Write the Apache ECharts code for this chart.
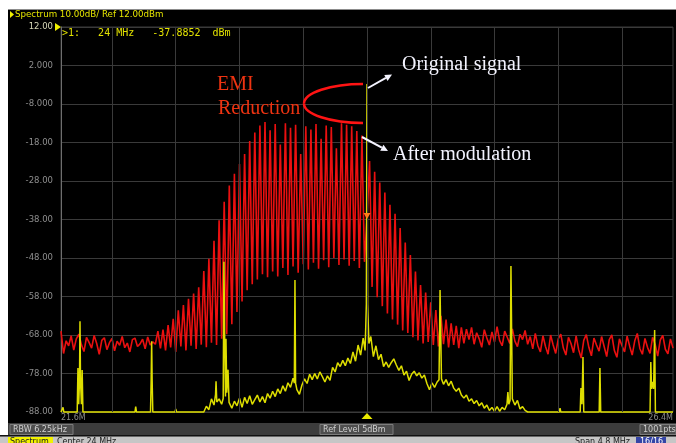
<!DOCTYPE html>
<html>
<head>
<meta charset="utf-8">
<script src="https://cdn.jsdelivr.net/npm/echarts@6/dist/echarts.min.js"></script>
<style>
html,body{margin:0;padding:0;background:#fff;}
#chart{width:676px;height:443px;}
</style>
</head>
<body>
<div id="chart"></div>
<script>
// Sweep settings (MHz)
const startMHz = 21.6;
const stopMHz = 26.4;
const centerMHz = 24.0;
const redStepMHz = 0.02;
const gridFreqs = [22.0, 22.5, 23.0, 23.5, 24.0, 24.5, 25.0, 25.5, 26.0];

// Level axis (dBm) and its printed labels
const levelMin = -88;
const levelMax = 12;
const levelStep = 10;
const levelLabels = ['-88.00','-78.00','-68.00','-58.00','-48.00','-38.00','-28.00','-18.00','-8.000','2.000','12.00'];

// Spread-spectrum clock (red): one reading every redStepMHz from startMHz
const modulatedLevel = [
  -67.0, -72.8, -69.5, -70.8, -68.2, -71.9, -69.0, -67.8, -70.5, -72.3,
  -68.6, -69.9, -71.4, -68.1, -70.2, -73.0, -69.4, -68.7, -71.8, -70.0,
  -68.9, -72.1, -69.6, -70.7, -68.4, -71.3, -70.1, -72.4, -69.2, -68.8,
  -71.0, -70.3, -69.1, -71.6, -68.5, -70.6, -69.8,
  -70.4, -67.0, -71.5, -66.6, -72.0, -65.4, -71.2, -63.8, -72.4, -61.6,
  -71.0, -60.2, -72.0, -58.6, -70.8, -57.2, -71.6, -55.6, -70.5, -51.4,
  -71.2, -48.2, -70.0, -43.5, -70.6, -38.2, -69.0, -33.4, -67.8, -29.2,
  -65.2, -26.1, -62.0, -23.6, -59.3, -21.0, -56.4, -17.6, -54.8, -15.4,
  -53.6, -13.6, -52.2, -12.7, -53.0, -14.8, -51.5, -13.2, -52.8, -18.5,
  -50.6, -13.0, -52.4, -14.2, -50.2, -13.4, -51.8, -21.0, -49.6, -13.8,
  -51.0, -14.6, -49.2, -13.2, -50.8, -17.0, -48.6, -13.6, -50.4, -14.0,
  -48.0, -19.5, -49.8, -13.0, -48.4, -13.4, -50.0, -13.8, -48.8, -15.0,
  -50.6, -16.2, -49.0, -37.8852, -22.8, -55.5, -25.6, -58.2, -28.4, -60.5,
  -31.0, -62.4, -34.2, -64.0, -36.5, -65.3, -40.2, -66.8, -44.0, -67.5,
  -47.2, -68.6, -51.5, -69.4, -55.0, -70.2, -57.0, -69.8, -59.5, -70.6,
  -61.5, -71.0, -63.0, -70.4, -64.0, -71.2, -65.0, -70.6, -65.6, -71.4,
  -66.0, -70.2, -66.5,
  -69.2, -66.0, -70.4, -67.4, -69.0, -71.2, -66.6, -68.8, -70.6, -67.2,
  -69.8, -65.8, -69.4, -70.8, -67.0, -68.6, -70.2, -66.4, -69.6, -71.0,
  -67.8, -69.2, -66.8, -70.4, -68.4, -71.6, -67.6, -70.8, -72.4, -68.2,
  -71.0, -73.0, -68.0, -70.6, -72.8, -69.0, -67.8, -71.4, -73.2, -68.6,
  -70.2, -72.6, -68.2, -71.8, -74.0, -69.4, -67.9, -71.2, -73.4, -68.8,
  -70.6, -72.2, -68.4, -71.0, -73.6, -69.2, -68.0, -72.0, -73.8, -69.0,
  -70.8, -72.4, -68.3, -70.9, -73.2, -69.5, -67.6, -71.5, -73.0, -68.9,
  -71.2, -72.8, -68.6, -70.4, -73.5, -69.3, -68.1, -71.7, -72.9, -69.0,
  -71.4
];

// Unmodulated clock (yellow): [MHz, dBm]
const originalTrace = [
  [21.600,-88.0],[21.610,-88.0],[21.616,-86.8],[21.622,-88.0],
  [21.727,-88.0],[21.733,-76.6],[21.739,-86.0],[21.745,-80.0],[21.749,-64.4],[21.753,-80.0],[21.760,-86.0],[21.766,-77.1],[21.772,-88.0],
  [22.180,-88.0],[22.186,-86.6],[22.192,-88.0],
  [22.302,-88.0],[22.307,-80.0],[22.311,-69.6],[22.315,-80.0],[22.320,-88.0],
  [22.494,-88.0],[22.500,-87.2],[22.506,-88.0],
  [22.720,-88.0],[22.740,-86.5],[22.760,-87.4],[22.780,-84.6],[22.800,-86.2],[22.812,-83.5],[22.816,-80.0],[22.822,-85.4],
  [22.840,-84.6],[22.860,-86.0],[22.872,-84.5],[22.878,-49.0],[22.884,-70.0],[22.890,-84.0],[22.894,-69.0],[22.900,-83.0],
  [22.910,-77.0],[22.918,-85.5],[22.940,-87.0],[22.960,-85.2],[22.980,-86.4],[23.000,-84.4],[23.020,-86.8],[23.040,-84.2],
  [23.060,-85.8],[23.080,-83.8],[23.100,-86.0],[23.120,-84.8],[23.140,-83.6],[23.160,-85.4],[23.180,-84.0],[23.200,-85.6],
  [23.220,-83.2],[23.240,-84.4],[23.260,-82.6],[23.280,-84.0],[23.300,-82.0],[23.320,-83.2],[23.340,-81.2],[23.360,-82.6],
  [23.380,-80.4],[23.400,-81.6],[23.420,-79.2],[23.430,-80.5],[23.435,-53.7],[23.440,-80.5],[23.450,-82.2],[23.470,-83.4],
  [23.490,-81.0],[23.510,-79.4],[23.530,-80.6],[23.550,-78.2],[23.570,-79.6],[23.590,-78.0],[23.610,-79.4],[23.630,-77.6],
  [23.650,-78.8],[23.670,-80.2],[23.690,-78.6],[23.710,-79.8],[23.730,-76.4],[23.750,-77.6],[23.770,-75.2],[23.790,-76.2],
  [23.810,-74.6],[23.830,-76.0],[23.850,-74.0],[23.870,-75.4],[23.890,-72.4],[23.910,-74.8],[23.930,-70.6],[23.950,-73.2],
  [23.970,-68.8],[23.985,-72.0],[23.995,-60.0],[24.000,-2.8],[24.005,-60.0],[24.015,-70.2],[24.030,-68.4],[24.050,-73.6],
  [24.070,-70.8],[24.090,-74.4],[24.110,-73.0],[24.130,-76.2],[24.150,-75.0],[24.170,-76.4],[24.190,-75.2],[24.210,-74.2],
  [24.230,-75.8],[24.250,-77.2],[24.270,-76.0],[24.290,-78.4],[24.310,-77.4],[24.330,-79.8],[24.350,-78.2],[24.370,-77.4],
  [24.390,-78.6],[24.410,-77.8],[24.430,-79.2],[24.450,-78.4],[24.470,-80.6],[24.490,-82.2],[24.510,-80.4],[24.530,-81.6],
  [24.550,-80.2],[24.565,-79.6],[24.573,-56.3],[24.578,-66.7],[24.584,-79.4],[24.600,-80.8],[24.620,-79.6],[24.640,-81.2],
  [24.660,-80.0],[24.680,-81.8],[24.700,-82.6],[24.720,-81.8],[24.740,-83.6],[24.760,-84.4],[24.780,-83.6],[24.800,-85.2],
  [24.820,-84.6],[24.840,-85.8],[24.860,-85.0],[24.880,-86.4],[24.900,-85.6],[24.920,-87.0],[24.940,-86.2],[24.960,-87.6],
  [24.980,-86.8],[25.000,-87.8],[25.020,-86.6],[25.040,-87.8],[25.060,-86.8],[25.080,-87.4],[25.098,-86.0],[25.105,-82.8],
  [25.112,-86.0],[25.122,-85.0],[25.129,-50.1],[25.134,-66.0],[25.140,-84.6],[25.160,-86.2],[25.180,-85.0],[25.200,-87.2],
  [25.220,-86.6],[25.240,-87.6],[25.260,-88.0],
  [25.508,-88.0],[25.514,-87.0],[25.520,-88.0],
  [25.672,-88.0],[25.678,-81.8],[25.686,-86.0],[25.694,-73.7],[25.700,-88.0],
  [25.821,-88.0],[25.827,-76.6],[25.833,-88.0],
  [26.220,-88.0],[26.226,-75.0],[26.232,-82.0],[26.240,-80.2],[26.248,-82.0],[26.256,-66.7],[26.262,-88.0],
  [26.400,-88.0]
];

// Marker 1 sits on the red trace at the centre frequency
const markerIndex = 120;
const markerFreq = centerMHz;
const markerLevel = modulatedLevel[markerIndex];

const modulatedData = modulatedLevel.map((v, i) => [+(startMHz + i * redStepMHz).toFixed(3), v]);

function levelLabel(v) {
  const idx = Math.round((v - levelMin) / levelStep);
  const s = levelLabels[idx];
  return v === levelMax ? '{ref|' + s + '}' : s;
}

function arrow(x1, y1, x2, y2, color) {
  const dx = x2 - x1, dy = y2 - y1, L = Math.hypot(dx, dy);
  const ux = dx / L, uy = dy / L, hl = 7, hw = 3.4;
  const bx = x2 - ux * hl, by = y2 - uy * hl;
  return [
    { type: 'line', z: 50, shape: { x1: x1, y1: y1, x2: bx, y2: by }, style: { stroke: color, lineWidth: 2 } },
    { type: 'polygon', z: 50, shape: { points: [[x2, y2], [bx - uy * hw, by + ux * hw], [bx + uy * hw, by - ux * hw]] }, style: { fill: color } }
  ];
}

function txt(x, y, text, font, fill, align) {
  return { type: 'text', z: 50, x: x, y: y,
    style: { text: text, font: font, fill: fill, textAlign: align || 'left', align: align || 'left', textVerticalAlign: 'top', verticalAlign: 'top' } };
}
function box(x, y, w, h, fill, stroke) {
  return { type: 'rect', z: 40, shape: { x: x, y: y, width: w, height: h },
    style: { fill: fill, stroke: stroke || null, lineWidth: stroke ? 1 : 0 } };
}

const instFont = '8px "DejaVu Sans"';
const serif = '20px "Liberation Serif"';
const readout = '>1:   ' + markerFreq.toFixed(0) + ' MHz   ' + markerLevel.toFixed(4) + '  dBm';

const chart = echarts.init(document.getElementById('chart'), null, { renderer: 'canvas' });
chart.setOption({
  animation: false,
  backgroundColor: '#000',
  grid: { left: 61, top: 27, width: 612, height: 385, show: true, backgroundColor: '#000', borderColor: '#3a3a3a', borderWidth: 1 },
  xAxis: {
    type: 'value', min: startMHz, max: stopMHz, interval: stopMHz - startMHz,
    axisLine: { show: false }, axisTick: { show: false }, splitLine: { show: false },
    axisLabel: { show: true, color: '#8a8a8a', fontSize: 8, fontFamily: 'DejaVu Sans', margin: 2,
      alignMinLabel: 'left', alignMaxLabel: 'right', formatter: v => v.toFixed(1) + 'M' }
  },
  yAxis: {
    type: 'value', min: levelMin, max: levelMax, interval: levelStep,
    axisLine: { show: true, lineStyle: { color: '#6e6e6e' } },
    axisTick: { show: false },
    splitLine: { lineStyle: { color: '#3a3a3a', width: 1 } },
    axisLabel: { color: '#8e8e8e', fontSize: 8.5, fontFamily: 'DejaVu Sans', margin: 8,
      formatter: levelLabel, rich: { ref: { color: '#d8d8b8', fontSize: 8.5, fontFamily: 'DejaVu Sans' } } }
  },
  series: [
    {
      type: 'line', data: [], z: 1, silent: true,
      markLine: { silent: true, symbol: 'none', animation: false, label: { show: false },
        lineStyle: { color: '#3a3a3a', type: 'solid', width: 1 },
        emphasis: { disabled: true },
        data: gridFreqs.map(f => ({ xAxis: f })) }
    },
    {
      name: 'After modulation', type: 'line', data: modulatedData, z: 2, silent: true,
      symbol: 'none', showSymbol: false, clip: false,
      lineStyle: { color: '#ea1010', width: 1.6 },
      markPoint: { silent: true, symbol: 'triangle', symbolRotate: 180, symbolSize: [7, 6], symbolOffset: [0, -3],
        itemStyle: { color: '#ff7a1a' }, label: { show: false },
        data: [{ coord: [markerFreq, markerLevel] }] }
    },
    {
      name: 'Original signal', type: 'line', data: originalTrace, z: 3, silent: true,
      symbol: 'none', showSymbol: false, clip: false,
      lineStyle: { color: '#dede00', width: 1.5 },
      markPoint: { silent: true, symbol: 'triangle', symbolSize: [11, 6], symbolOffset: [0, 4],
        itemStyle: { color: '#eaea00' }, label: { show: false },
        data: [{ coord: [centerMHz, levelMin] }] }
    }
  ],
  graphic: [].concat(
    [
      box(0, 0, 676, 9, '#ffffff'),
      box(0, 0, 8, 436, '#ffffff'),
      box(8, 9, 668, 1, '#8c8c8c'),
      { type: 'polygon', z: 50, shape: { points: [[10, 11], [14, 14.5], [10, 18]] }, style: { fill: '#f0f000' } },
      txt(15, 10.5, 'Spectrum 10.00dB/ Ref 12.00dBm', '8.7px "DejaVu Sans"', '#e6e600'),
      { type: 'polygon', z: 50, shape: { points: [[55, 23], [61, 27], [55, 31]] }, style: { fill: '#f0f000' } },
      txt(62, 28, readout, '10px "DejaVu Sans Mono"', '#e2e200'),
      // status bars
      box(8, 423, 668, 12, '#3c3c3c'),
      box(10, 424.5, 63, 10, '#4e4e4e', '#7c7c7c'),
      txt(13, 425.5, 'RBW 6.25kHz', instFont, '#d0d0d0'),
      box(320, 424.5, 73, 10, '#4e4e4e', '#7c7c7c'),
      txt(323, 425.5, 'Ref Level 5dBm', instFont, '#d0d0d0'),
      box(640, 424.5, 36, 10, '#4e4e4e', '#7c7c7c'),
      txt(643, 425.5, '1001pts', instFont, '#d0d0d0'),
      box(0, 435, 676, 1.5, '#111111'),
      box(0, 436.5, 676, 7, '#c6c6c6'),
      box(8, 437, 45, 7, '#f2f200'),
      txt(10, 437.5, 'Spectrum', instFont, '#202020'),
      txt(57, 437.5, 'Center 24 MHz', instFont, '#202020'),
      txt(575, 437.5, 'Span 4.8 MHz', instFont, '#202020'),
      box(636, 437, 30, 7, '#3444a6'),
      txt(640, 437.5, '16/16', instFont, '#ffffff'),
      // annotations
      txt(402, 54.5, 'Original signal', serif, '#f4f4ff'),
      txt(393, 144.5, 'After modulation', serif, '#f4f4ff'),
      txt(217, 74.5, 'EMI', serif, '#ee3311'),
      txt(218, 99, 'Reduction', serif, '#ee3311'),
      { type: 'bezierCurve', z: 50, shape: { x1: 363, y1: 84, cpx1: 330.4, cpy1: 84, cpx2: 304, cpy2: 92.7, x2: 304, y2: 103.5 },
        style: { stroke: '#ff1414', lineWidth: 2.5, fill: null } },
      { type: 'bezierCurve', z: 50, shape: { x1: 304, y1: 103.5, cpx1: 304, cpy1: 114.3, cpx2: 330.4, cpy2: 123, x2: 363, y2: 123 },
        style: { stroke: '#ff1414', lineWidth: 2.5, fill: null } }
    ],
    arrow(368, 88, 392, 74.5, '#f4f4ff'),
    arrow(362, 137, 388, 151, '#f4f4ff')
  )
});
</script>
</body>
</html>
